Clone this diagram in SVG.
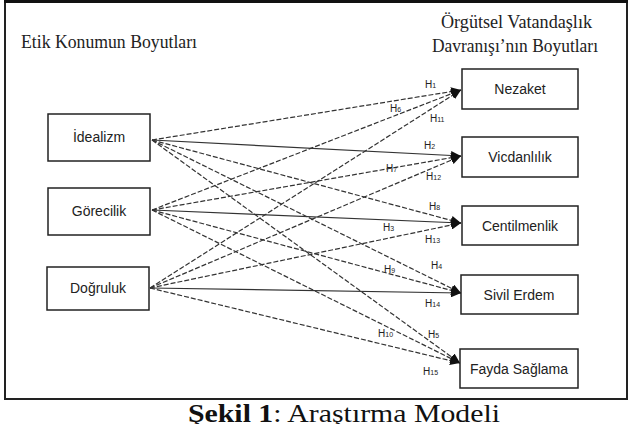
<svg xmlns="http://www.w3.org/2000/svg" width="635" height="424" viewBox="0 0 635 424">
<defs>
<marker id="ah" markerUnits="userSpaceOnUse" markerWidth="11" markerHeight="9" refX="10" refY="4.5" orient="auto">
<path d="M0,0 L10,4.5 L0,9 z" fill="#111"/>
</marker>
<style>
.box{fill:#fff;stroke:#222;stroke-width:1.5}
.nt{font-family:"Liberation Sans",Arial,sans-serif;font-size:14px;fill:#222;text-anchor:middle}
.hd{font-family:"Liberation Serif","Times New Roman",serif;font-size:18px;fill:#222}
.ln{stroke:#333;stroke-width:1.2;fill:none;stroke-dasharray:5 2;marker-end:url(#ah)}
.sl{stroke-dasharray:none}
.lb{font-family:"Liberation Sans",Arial,sans-serif;font-size:10px;fill:#222}
.sb{font-size:7px}
</style>
</defs>
<rect x="5" y="2" width="622" height="397" fill="#fff" stroke="#222" stroke-width="2"/>
<line x1="4" y1="1.5" x2="628" y2="1.5" stroke="#111" stroke-width="3"/>
<text class="hd" x="21" y="48" textLength="176" lengthAdjust="spacingAndGlyphs">Etik Konumun Boyutları</text>
<text class="hd" x="441" y="28" textLength="151" lengthAdjust="spacingAndGlyphs">Örgütsel Vatandaşlık</text>
<text class="hd" x="432" y="52" textLength="166" lengthAdjust="spacingAndGlyphs">Davranışı’nın Boyutları</text>
<g id="connectors">
<line class="ln" x1="152" y1="140" x2="461" y2="90"/>
<line class="ln sl" x1="152" y1="140" x2="461" y2="156"/>
<line class="ln" x1="152" y1="140" x2="461" y2="223"/>
<line class="ln" x1="152" y1="140" x2="461" y2="293"/>
<line class="ln" x1="152" y1="140" x2="460" y2="363"/>
<line class="ln" x1="152" y1="210" x2="461" y2="90"/>
<line class="ln" x1="152" y1="210" x2="461" y2="156"/>
<line class="ln sl" x1="152" y1="210" x2="461" y2="223"/>
<line class="ln" x1="152" y1="210" x2="461" y2="293"/>
<line class="ln" x1="152" y1="210" x2="460" y2="363"/>
<line class="ln" x1="150" y1="288" x2="461" y2="90"/>
<line class="ln" x1="150" y1="288" x2="461" y2="156"/>
<line class="ln" x1="150" y1="288" x2="461" y2="223"/>
<line class="ln sl" x1="150" y1="288" x2="461" y2="293"/>
<line class="ln" x1="150" y1="288" x2="460" y2="363"/>
</g>
<g id="labels">
<text class="lb" x="425" y="88">H<tspan class="sb">1</tspan></text>
<text class="lb" x="390" y="112">H<tspan class="sb">6</tspan></text>
<text class="lb" x="430" y="122">H<tspan class="sb">11</tspan></text>
<text class="lb" x="424" y="149">H<tspan class="sb">2</tspan></text>
<text class="lb" x="386" y="172">H<tspan class="sb">7</tspan></text>
<text class="lb" x="426" y="180">H<tspan class="sb">12</tspan></text>
<text class="lb" x="429" y="210">H<tspan class="sb">8</tspan></text>
<text class="lb" x="383" y="231">H<tspan class="sb">3</tspan></text>
<text class="lb" x="425" y="243">H<tspan class="sb">13</tspan></text>
<text class="lb" x="431" y="269">H<tspan class="sb">4</tspan></text>
<text class="lb" x="384" y="273">H<tspan class="sb">9</tspan></text>
<text class="lb" x="425" y="307">H<tspan class="sb">14</tspan></text>
<text class="lb" x="378" y="337">H<tspan class="sb">10</tspan></text>
<text class="lb" x="428" y="338">H<tspan class="sb">5</tspan></text>
<text class="lb" x="423" y="375">H<tspan class="sb">15</tspan></text>
</g>
<g id="idealizm"><rect class="box" x="48" y="114" width="102" height="47"/><text class="nt" x="99" y="142">İdealizm</text></g>
<g id="gorecilik"><rect class="box" x="48" y="188" width="102" height="47"/><text class="nt" x="99" y="216">Görecilik</text></g>
<g id="dogruluk"><rect class="box" x="47" y="267" width="102" height="43"/><text class="nt" x="98" y="293">Doğruluk</text></g>
<g id="nezaket"><rect class="box" x="462" y="69" width="116" height="40"/><text class="nt" x="520" y="94">Nezaket</text></g>
<g id="vicdanlilik"><rect class="box" x="462" y="137" width="116" height="40"/><text class="nt" x="520" y="162">Vicdanlılık</text></g>
<g id="centilmenlik"><rect class="box" x="462" y="206" width="116" height="39"/><text class="nt" x="520" y="231">Centilmenlik</text></g>
<g id="sivilerdem"><rect class="box" x="461" y="275" width="117" height="39"/><text class="nt" x="519" y="300">Sivil Erdem</text></g>
<g id="faydasaglama"><rect class="box" x="460" y="349" width="118" height="39"/><text class="nt" x="519" y="374">Fayda Sağlama</text></g>
<text x="188" y="422" font-family="'Liberation Serif','Times New Roman',serif" font-size="26" fill="#111" textLength="312" lengthAdjust="spacingAndGlyphs"><tspan font-weight="bold">Şekil 1</tspan>: Araştırma Modeli</text>
</svg>
